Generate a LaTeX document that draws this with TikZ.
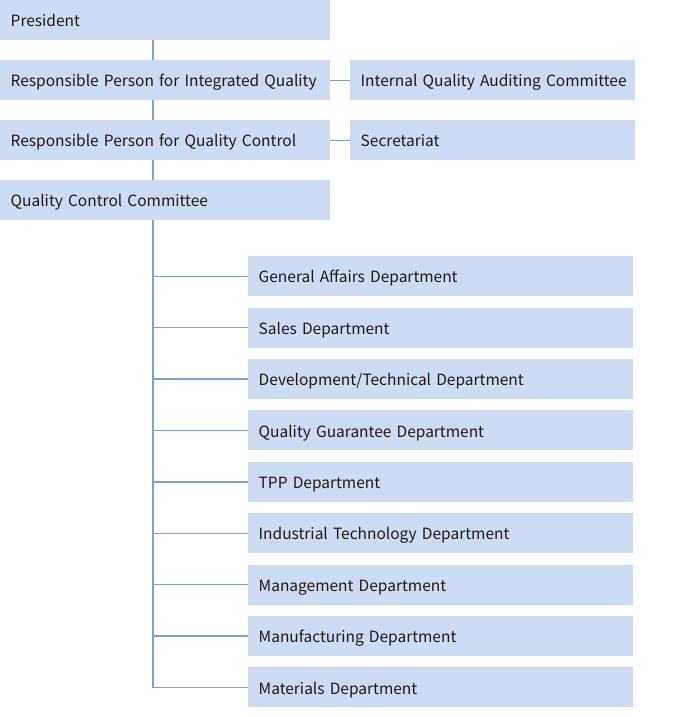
\documentclass[tikz,border=0pt]{standalone}
\usepackage{fontspec}
\setmainfont{Noto Sans CJK JP}
\definecolor{boxfill}{HTML}{CDDCF2}
\definecolor{linec}{HTML}{7FA1CF}
\definecolor{txt}{HTML}{231815}
\begin{document}
\begin{tikzpicture}[x=1pt,y=-1pt,
  box/.style={fill=boxfill, draw=none, anchor=north west, minimum height=40pt,
    inner xsep=0pt, inner ysep=0pt, align=left, text=txt,
    text height=13.5pt, text depth=0pt,
    execute at begin node={\hyphenpenalty=10000\hspace*{10.5pt}},
    font=\fontsize{15.5}{18}\selectfont},
  wide/.style={box, text width=330pt},
  side/.style={box, text width=285pt},
  dept/.style={box, text width=385pt},
  conn/.style={draw=linec, line width=1.4pt}]
\useasboundingbox (0,0) rectangle (674,717);
\node[wide] (pres) at (0,0) {President};
\node[wide] (rpiq) at (0,60) {Responsible Person for Integrated Quality};
\node[side] (iqac) at (350,60) {Internal Quality Auditing Committee};
\node[wide] (rpqc) at (0,120) {Responsible Person for Quality Control};
\node[side] (sec) at (350,120) {Secretariat};
\node[wide] (qcc) at (0,180) {Quality Control Committee};
\foreach \i/\name/\t in {0/d1/{General Affairs Department},1/d2/{Sales Department},2/d3/{Development/Technical Department},3/d4/{Quality Guarantee Department},4/d5/{TPP Department},5/d6/{Industrial Technology Department},6/d7/{Management Department},7/d8/{Manufacturing Department},8/d9/{Materials Department}}{
  \node[dept] (\name) at (248,{256+51.4*\i}) {\t};
}
\draw[conn] (pres.south -| 153,0) -- (rpiq.north -| 153,0);
\draw[conn] (rpiq.south -| 153,0) -- (rpqc.north -| 153,0);
\draw[conn] (rpqc.south -| 153,0) -- (qcc.north -| 153,0);
\draw[conn] (rpiq.east) -- (iqac.west);
\draw[conn] (rpqc.east) -- (sec.west);
\coordinate (trunk) at (153,220);
\draw[conn] (trunk) |- (d9.west);
\foreach \n in {d1,d2,d3,d4,d5,d6,d7,d8}{
  \draw[conn] (trunk |- \n.west) -- (\n.west);
}
\end{tikzpicture}
\end{document}
